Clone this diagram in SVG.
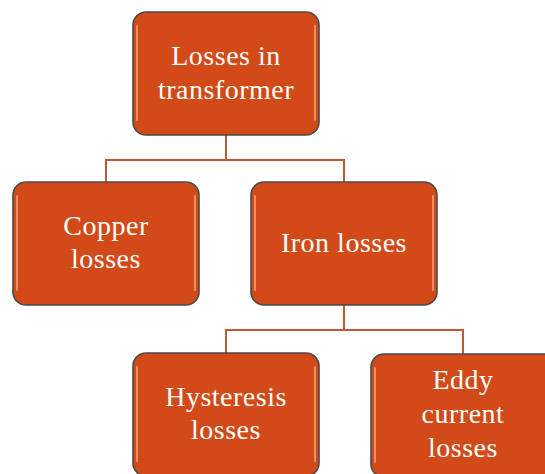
<svg xmlns="http://www.w3.org/2000/svg" width="545" height="474" viewBox="0 0 545 474">
<defs>
<style>
.box{fill:#D14A17;stroke:#4a4a4a;stroke-width:1.6}
.hl{stroke:#F4A57C;stroke-width:1.8;stroke-linecap:round;fill:none;opacity:0.85}
.lbl{font-family:"Liberation Serif","Times New Roman",serif;font-size:28px;letter-spacing:0.5px;fill:#ffffff;text-anchor:middle}
.conn{stroke:#C05A35;stroke-width:2;fill:none}
</style>
</defs>
<rect width="545" height="474" fill="#ffffff"/>
<g id="connectors">
<path class="conn" d="M226 135 V160 M106 182 V160 H344 V182"/>
<path class="conn" d="M344 305 V330 M226 353 V330 H463 V354"/>
</g>
<g id="n-top">
<rect class="box" x="133" y="12" width="186" height="123" rx="13"/>
<path class="hl" d="M137 26 V120 M315 26 V120"/>
<text class="lbl" x="226" y="65">Losses in</text>
<text class="lbl" x="226" y="99">transformer</text>
</g>
<g id="n-copper">
<rect class="box" x="13" y="182" width="186" height="123" rx="13"/>
<path class="hl" d="M17 196 V290 M195 196 V290"/>
<text class="lbl" x="106" y="235">Copper</text>
<text class="lbl" x="106" y="268">losses</text>
</g>
<g id="n-iron">
<rect class="box" x="251" y="182" width="186" height="123" rx="13"/>
<path class="hl" d="M255 196 V290 M433 196 V290"/>
<text class="lbl" x="344" y="252">Iron losses</text>
</g>
<g id="n-hysteresis">
<rect class="box" x="133" y="353" width="186" height="123" rx="13"/>
<path class="hl" d="M137 367 V461 M315 367 V461"/>
<text class="lbl" x="226" y="406">Hysteresis</text>
<text class="lbl" x="226" y="439">losses</text>
</g>
<g id="n-eddy">
<rect class="box" x="371" y="354" width="186" height="123" rx="13"/>
<path class="hl" d="M375 368 V462"/>
<text class="lbl" x="463" y="389">Eddy</text>
<text class="lbl" x="463" y="423">current</text>
<text class="lbl" x="463" y="457">losses</text>
</g>
</svg>
